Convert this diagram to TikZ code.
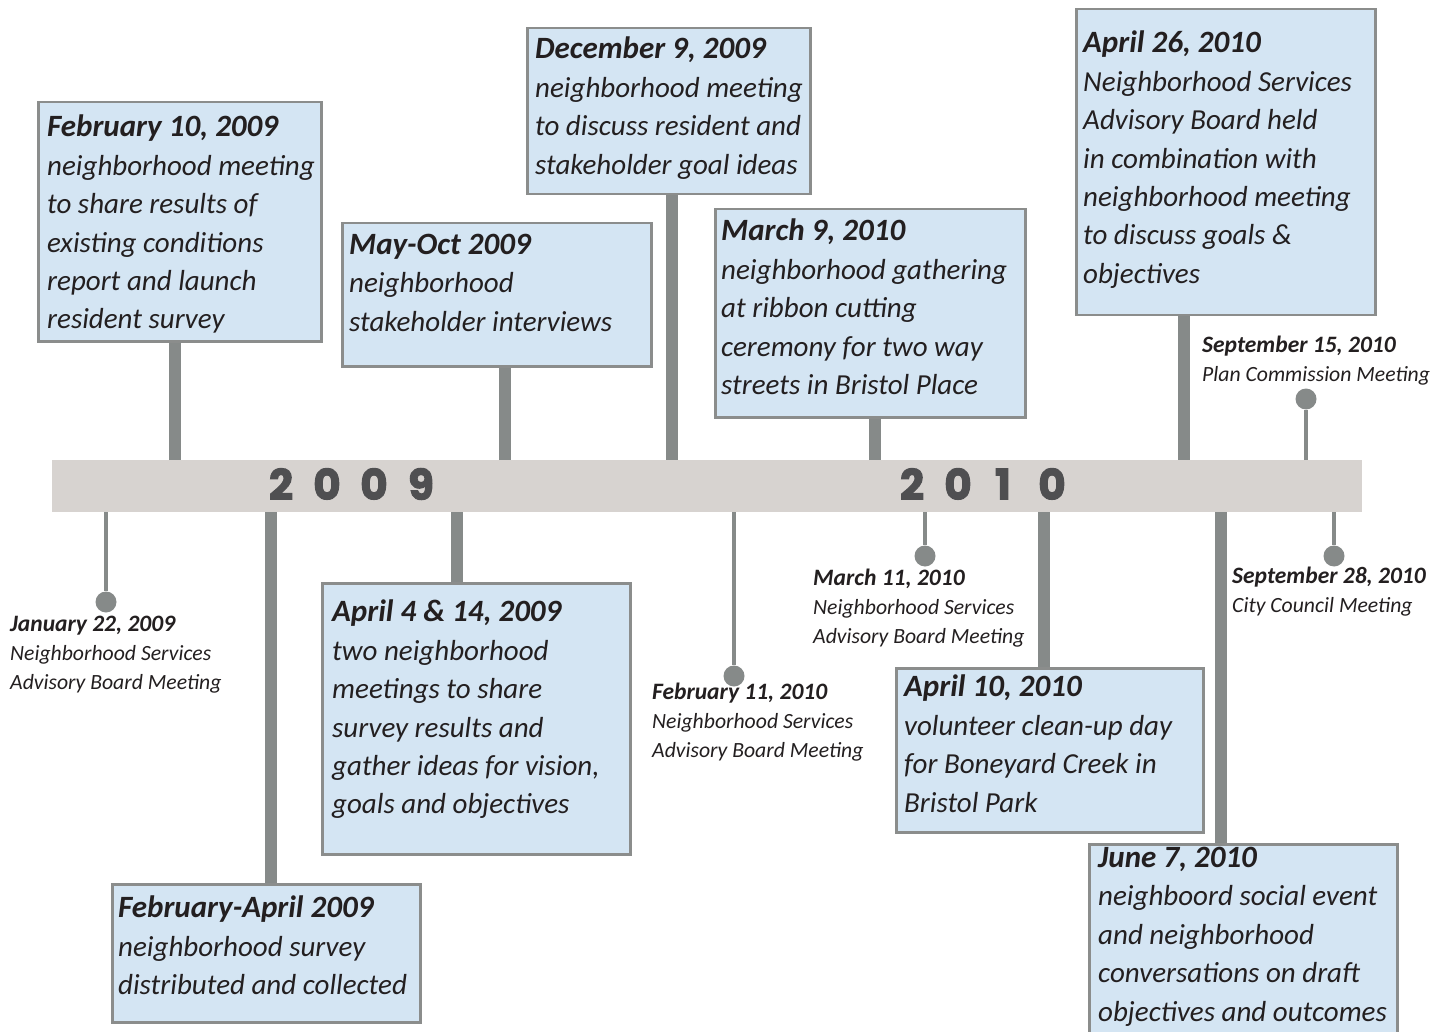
\documentclass[tikz,border=0pt]{standalone}
\usepackage{fontspec}
\usepackage{xcolor}
\setmainfont{Carlito}
\newfontfamily\yearfont{Poppins}[BoldFeatures={FakeBold=2.5}]
\usetikzlibrary{positioning}

\definecolor{boxfill}{HTML}{D4E5F3}
\definecolor{boxline}{HTML}{8B8D8C}
\definecolor{stemgray}{HTML}{868A89}
\definecolor{barfill}{HTML}{D7D3D0}
\definecolor{yeargray}{HTML}{4F4F51}
\definecolor{inkcolor}{HTML}{231F20}

\newcommand{\evdate}[1]{{\fontsize{31}{38.4}\selectfont\bfseries #1}}
\newcommand{\smdate}[1]{{\fontsize{23.5}{28.7}\selectfont\bfseries #1}}

\tikzset{
  evbox/.style={draw=boxline, fill=boxfill, line width=2.5pt, inner sep=0pt, anchor=north west},
  evtext/.style={anchor=north west, inner sep=0pt, align=left, text=inkcolor,
    font=\fontsize{29}{38.4}\selectfont\itshape},
  smtext/.style={anchor=north west, inner sep=0pt, align=left, text=inkcolor,
    font=\fontsize{21.7}{28.7}\selectfont\itshape},
  stem/.style={draw=stemgray, line width=12pt},
  thinstem/.style={draw=stemgray, line width=4pt},
  pin/.style={circle, fill=stemgray, minimum size=21pt, inner sep=0pt},
  yeardigit/.style={text=yeargray, inner sep=0pt,
    font=\fontsize{42}{42}\selectfont\yearfont\bfseries}
}

\begin{document}
\begin{tikzpicture}[x=1pt,y=-1pt]
  \useasboundingbox (0,0) rectangle (1451,1032);

  % timeline bar
  \node[fill=barfill, inner sep=0pt, minimum width=1310pt, minimum height=52pt,
    anchor=north west] (bar) at (52,460) {};
  \foreach \d/\x [count=\i] in {2/281,0/327,0/374,9/421}
    \node[yeardigit] (ya\i) at (\x,484) {\d};
  \foreach \d/\x [count=\i] in {2/912,0/958,1/1003,0/1052}
    \node[yeardigit] (yb\i) at (\x,484) {\d};

  % boxes above the bar
  \node[evbox, minimum width=283pt, minimum height=239pt] (feb10) at (37,101) {};
  \node[evbox, minimum width=309pt, minimum height=143pt] (mayoct) at (341,222) {};
  \node[evbox, minimum width=283pt, minimum height=166pt] (dec9) at (526,27) {};
  \node[evbox, minimum width=310pt, minimum height=208pt] (mar9) at (714,208) {};
  \node[evbox, minimum width=299pt, minimum height=306pt] (apr26) at (1075,8) {};

  % boxes below the bar
  \node[evbox, minimum width=308pt, minimum height=138pt] (febapr) at (111,883) {};
  \node[evbox, minimum width=308pt, minimum height=271pt] (apr414) at (321,582) {};
  \node[evbox, minimum width=307pt, minimum height=164pt] (apr10) at (895,667) {};
  \node[evbox, minimum width=308pt, minimum height=220pt] (jun7) at (1088,843) {};

  % pins
  \node[pin] (jan22pin) at (106,602) {};
  \node[pin] (feb11pin) at (734,676) {};
  \node[pin] (mar11pin) at (925,556) {};
  \node[pin] (sep15pin) at (1306,399) {};
  \node[pin] (sep28pin) at (1334,556) {};

  % stems
  \draw[stem] (feb10.south -| 175,0) -- (bar.north -| 175,0);
  \draw[stem] (mayoct.south -| 505,0) -- (bar.north -| 505,0);
  \draw[stem] (dec9.south -| 672,0) -- (bar.north -| 672,0);
  \draw[stem] (mar9.south -| 875,0) -- (bar.north -| 875,0);
  \draw[stem] (apr26.south -| 1184,0) -- (bar.north -| 1184,0);
  \draw[stem] (bar.south -| 271,0) -- (febapr.north -| 271,0);
  \draw[stem] (bar.south -| 457,0) -- (apr414.north -| 457,0);
  \draw[stem] (bar.south -| 1044,0) -- (apr10.north -| 1044,0);
  \draw[stem] (bar.south -| 1221,0) -- (jun7.north -| 1221,0);
  \draw[thinstem] (bar.south -| jan22pin) -- (jan22pin);
  \draw[thinstem] (bar.south -| feb11pin) -- (feb11pin);
  \draw[thinstem] (bar.south -| mar11pin) -- (mar11pin);
  \draw[thinstem] (bar.north -| sep15pin) -- (sep15pin);
  \draw[thinstem] (bar.south -| sep28pin) -- (sep28pin);

  % box texts
  \node[evtext] (feb10t) at (47,115) {\evdate{February 10, 2009}\\neighborhood meeting\\to share results of\\existing conditions\\report and launch\\resident survey};
  \node[evtext] (mayoctt) at (349,234) {\evdate{May-Oct 2009}\\neighborhood\\stakeholder interviews};
  \node[evtext] (dec9t) at (535,37) {\evdate{December 9, 2009}\\neighborhood meeting\\to discuss resident and\\stakeholder goal ideas};
  \node[evtext] (mar9t) at (721,219) {\evdate{March 9, 2010}\\neighborhood gathering\\at ribbon cutting\\ceremony for two way\\streets in Bristol Place};
  \node[evtext] (apr26t) at (1083,31) {\evdate{April 26, 2010}\\Neighborhood Services\\Advisory Board held\\in combination with\\neighborhood meeting\\to discuss goals \&\\objectives};
  \node[evtext] (febaprt) at (118,896) {\evdate{February-April 2009}\\neighborhood survey\\distributed and collected};
  \node[evtext] (apr414t) at (332,600) {\evdate{April 4 \& 14, 2009}\\two neighborhood\\meetings to share\\survey results and\\gather ideas for vision,\\goals and objectives};
  \node[evtext] (apr10t) at (904,675) {\evdate{April 10, 2010}\\volunteer clean-up day\\for Boneyard Creek in\\Bristol Park};
  \node[evtext] (jun7t) at (1098,847) {\evdate{June 7, 2010}\\neighboord social event\\and neighborhood\\conversations on draft\\objectives and outcomes};

  % pin texts
  \node[smtext] (jan22t) at (10,616) {\smdate{January 22, 2009}\\Neighborhood Services\\Advisory Board Meeting};
  \node[smtext] (feb11t) at (652,683) {\smdate{February 11, 2010}\\Neighborhood Services\\Advisory Board Meeting};
  \node[smtext] (mar11t) at (813,569) {\smdate{March 11, 2010}\\Neighborhood Services\\Advisory Board Meeting};
  \node[smtext] (sep15t) at (1202,336) {\smdate{September 15, 2010}\\Plan Commission Meeting};
  \node[smtext] (sep28t) at (1232,567) {\smdate{September 28, 2010}\\City Council Meeting};
\end{tikzpicture}
\end{document}
